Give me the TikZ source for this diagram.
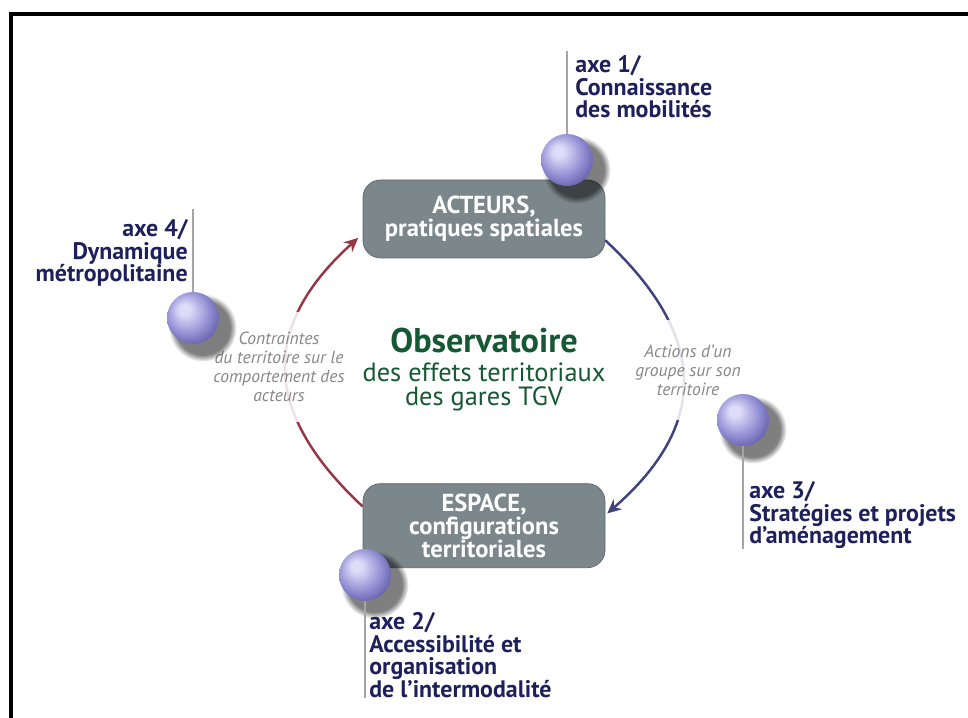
\documentclass[tikz,border=0pt]{standalone}
\usepackage{fontspec}
\setmainfont{PT Sans}
\usepackage{xcolor}
\usetikzlibrary{arrows.meta,positioning,shadows,fadings}
\definecolor{axecol}{RGB}{30,32,92}
\definecolor{boxfill}{RGB}{123,135,139}
\definecolor{boxedge}{RGB}{92,102,112}
\definecolor{obsgreen}{RGB}{22,88,52}
\definecolor{bluearc}{RGB}{62,66,125}
\definecolor{redarc}{RGB}{150,55,70}
\definecolor{orbhi}{RGB}{222,220,248}
\definecolor{orbmid}{RGB}{150,146,214}
\definecolor{orbdark}{RGB}{100,96,170}
\definecolor{notegray}{RGB}{135,135,135}
\definecolor{linegray}{RGB}{165,165,165}
\pgfdeclareradialshading{orb}{\pgfpoint{-9bp}{9bp}}{color(0bp)=(orbhi); color(5bp)=(orbhi); color(20bp)=(orbmid); color(31bp)=(orbdark); color(50bp)=(orbdark)}

\begin{document}
\begin{tikzpicture}[
  frame/.style={line width=0.08cm},
  stage/.style={rectangle,rounded corners=3.5mm,draw=boxedge,fill=boxfill,text=white,align=center,font=\fontsize{14}{13}\selectfont\bfseries,minimum width=4.84cm,inner sep=0pt},
  sphere/.style={circle,minimum size=1.04cm,inner sep=0pt,shade,shading=orb,
    circular drop shadow={shadow xshift=0.15cm,shadow yshift=-0.15cm,shadow scale=1.3,fill=black,opacity=0.5,path fading=circle with fuzzy edge 20 percent}},
  axe/.style={text=axecol,font=\fontsize{13.6}{12.8}\selectfont\bfseries,inner sep=0pt},
  axeline/.style={draw=linegray,line width=0.6pt},
  note/.style={text=notegray,font=\fontsize{10}{10.8}\selectfont\itshape,align=center,fill=white,fill opacity=0.85,text opacity=1,inner xsep=0.05cm},
  flow/.style={line width=1.4pt,-{Stealth[length=2.8mm,width=2.6mm]},looseness=1.3}
]
\useasboundingbox (0,0) rectangle (19.36,14.36);
\draw[frame] (0.23,0) -- (0.23,14.07) -- (19.36,14.07);

% the two stages of the loop
\node[stage,minimum height=1.56cm] (acteurs) at (9.68,9.98) {ACTEURS,\\pratiques spatiales};
\node[stage,minimum height=1.68cm,below=4.5cm of acteurs] (espace) {ESPACE,\\configurations\\territoriales};

% centre title
\node[text=obsgreen,font=\fontsize{19.5}{22}\selectfont\bfseries,inner sep=1pt] (obs) at (9.68,7.54) {Observatoire};
\node[text=obsgreen,font=\fontsize{15}{13.8}\selectfont,align=center,inner sep=1pt,below=0.1cm of obs] (sub) {des effets territoriaux\\des gares TGV};

% loop
\draw[flow,draw=bluearc,shorten >=0.05cm] (acteurs.-10) to[out=-43,in=41] (espace.5);
\draw[flow,draw=redarc,shorten >=0.12cm] (espace.171) to[out=137,in=-138] (acteurs.187);
\node[note,inner ysep=0.5cm] (actions) at (13.76,6.96) {Actions d'un\\groupe sur son\\territoire};
\node[note,inner ysep=0.4cm] (contraintes) at (5.58,7.02) {Contraintes\\du territoire sur le\\comportement des\\acteurs};

% research axes
\node[sphere] (sph1) at (11.34,11.16) {};
\node[sphere] (sph4) at (3.86,8.0) {};
\node[sphere] (sph3) at (14.86,5.96) {};
\node[sphere] (sph2) at (7.30,2.86) {};

\node[axe,align=left,above right=0.3cm and 0.16cm of sph1.north] (ax1) {axe 1/\\Connaissance\\des mobilités};
\node[axe,align=right,above left=0.1cm and 0.1cm of sph4.north] (ax4) {axe 4/\\Dynamique\\métropolitaine};
\node[axe,align=left,below right=0.7cm and 0.12cm of sph3.south] (ax3) {axe 3/\\Stratégies et projets\\d'aménagement};
\node[axe,align=left,below right=0.22cm and 0.08cm of sph2.south] (ax2) {axe 2/\\Accessibilité et\\organisation\\de l'intermodalité};

\draw[axeline] (sph1.north) -- ([yshift=0.1cm]sph1.north |- ax1.north);
\draw[axeline] (sph4.north) -- ([yshift=0.2cm]sph4.north |- ax4.north);
\draw[axeline] (sph3.south) -- (sph3.south |- ax3.south);
\draw[axeline] (sph2.south) -- (sph2.south |- ax2.south);
\end{tikzpicture}
\end{document}
